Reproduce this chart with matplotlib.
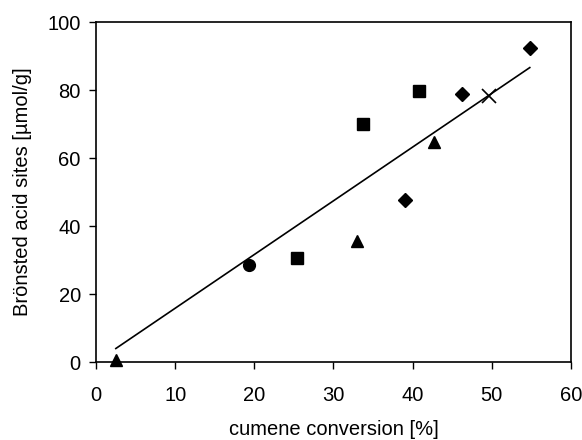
import matplotlib
matplotlib.use("Agg")
import matplotlib.pyplot as plt

plt.rcParams['font.family'] = ['Liberation Sans', 'DejaVu Sans']

# Data
triangle_x = [2.5, 33.0, 42.7]
triangle_y = [0.5, 35.6, 64.7]
circle_x = [19.3]
circle_y = [28.5]
square_x = [25.4, 33.7, 40.8]
square_y = [30.6, 70.0, 79.7]
diamond_x = [39.0, 46.2, 54.8]
diamond_y = [47.6, 78.8, 92.4]
cross_x = [49.6]
cross_y = [78.2]

# Linear trend line endpoints
fit_x = [2.5, 54.8]
fit_y = [4.0, 86.6]

fig = plt.figure(figsize=(5.82, 4.4), dpi=100)
ax = fig.add_axes([0.165, 0.177, 0.816, 0.773])

ax.plot(fit_x, fit_y, color='black', linewidth=1.2, zorder=1)
ax.plot(triangle_x, triangle_y, '^', color='black', markersize=8, clip_on=False, zorder=3)
ax.plot(circle_x, circle_y, 'o', color='black', markersize=8.5, zorder=3)
ax.plot(square_x, square_y, 's', color='black', markersize=8, zorder=3)
ax.plot(diamond_x, diamond_y, 'D', color='black', markersize=7.2, zorder=3)
ax.plot(cross_x, cross_y, 'x', color='black', markersize=10, markeredgewidth=1.2, zorder=3)

ax.set_xlim(0, 60)
ax.set_ylim(0, 100)
ax.set_xticks(range(0, 61, 10))
ax.set_yticks(range(0, 101, 20))
ax.tick_params(direction='out', length=5, width=1, labelsize=14.5)
ax.tick_params(axis='x', pad=12)
ax.tick_params(axis='y', pad=6)

for s in ax.spines.values():
    s.set_linewidth(1.2)

ax.set_xlabel('cumene conversion [%]', fontsize=14.5, labelpad=11)
ax.set_ylabel('Brönsted acid sites [µmol/g]', fontsize=14.5, labelpad=11)

fig.savefig('out.png', dpi=100)
